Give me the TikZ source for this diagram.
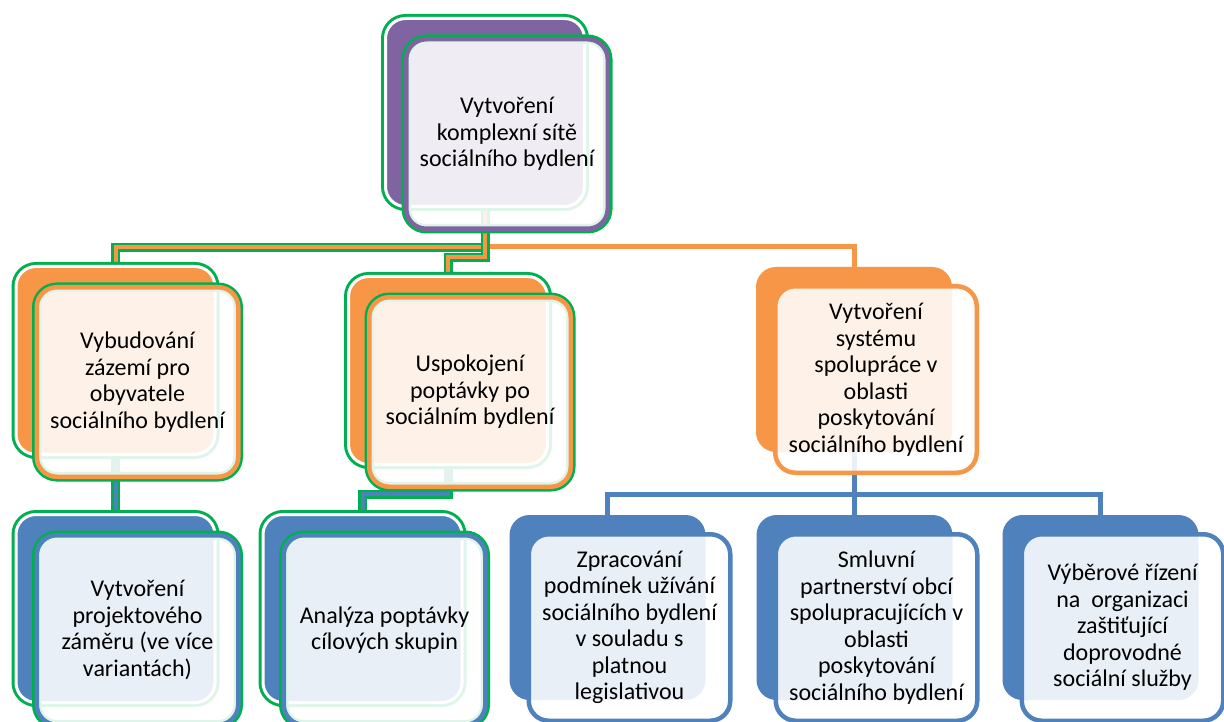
\documentclass[tikz,border=0pt]{standalone}
\usepackage{fontspec}
\setmainfont{Carlito}
\usetikzlibrary{backgrounds}
\definecolor{hlgreen}{HTML}{00B050}
\definecolor{purpleC}{HTML}{8064A2}
\definecolor{orangeC}{HTML}{F79646}
\definecolor{blueC}{HTML}{4F81BD}

\begin{document}
\begin{tikzpicture}[
        x=1pt, y=-1pt,
        back/.style={rectangle, rounded corners=20pt, inner sep=0pt, outer sep=0pt, minimum width=196pt, minimum height=185pt, fill=#1},
        backhl/.style={back=#1, minimum width=199pt, minimum height=188pt, draw=white, line width=3pt, preaction={draw=hlgreen, line width=9pt}},
        front/.style={rectangle, rounded corners=20pt, outer sep=0pt, minimum width=201.5pt, minimum height=186.5pt, draw=#1, line width=4.5pt, fill=white, fill opacity=.88, text opacity=1, align=center, font=\fontsize{24}{26.5}\selectfont, shift={(22,20)}},
        fronthl/.style={front=#1, minimum height=189.5pt, shift={(0,1.5)}, preaction={draw=hlgreen, line width=9.5pt}},
        link/.style={draw=#1, line width=5pt},
        linkhl/.style={draw=#1, line width=4pt, preaction={draw=hlgreen, line width=9pt}}
    ]
    \useasboundingbox (0,0) rectangle (1224,722);

    % Nodes
    \node (top-b) [backhl=purpleC] at (485,112.5) {};
    \node (top) [fronthl=purpleC] at (top-b) {Vytvoření\\komplexní sítě\\sociálního bydlení};

    \node (vyb-b) [backhl=orangeC] at (115.5,360.5) {};
    \node (vyb) [fronthl=orangeC] at (vyb-b) {Vybudování\\zázemí pro\\obyvatele\\sociálního bydlení};

    \node (usp-b) [backhl=orangeC] at (448,370.5) {};
    \node (usp) [fronthl=orangeC] at (usp-b) {Uspokojení\\poptávky po\\sociálním bydlení};

    \node (sys-b) [back=orangeC] at (854,359.5) {};
    \node (sys) [front=orangeC] at (sys-b) {Vytvoření\\systému\\spolupráce v\\oblasti\\poskytování\\sociálního bydlení};

    \node (proj-b) [backhl=blueC] at (115.5,608.5) {};
    \node (proj) [fronthl=blueC] at (proj-b) {Vytvoření\\projektového\\záměru (ve více\\variantách)};

    \node (anal-b) [backhl=blueC] at (362.5,608.5) {};
    \node (anal) [fronthl=blueC] at (anal-b) {Analýza poptávky\\cílových skupin};

    \node (zpr-b) [back=blueC] at (607.5,607.5) {};
    \node (zpr) [front=blueC] at (zpr-b) {Zpracování\\podmínek užívání\\sociálního bydlení\\v souladu s\\platnou\\legislativou};

    \node (sml-b) [back=blueC] at (854.5,607.5) {};
    \node (sml) [front=blueC] at (sml-b) {Smluvní\\partnerství obcí\\spolupracujících v\\oblasti\\poskytování\\sociálního bydlení};

    \node (vyber-b) [back=blueC] at (1100.5,607.5) {};
    \node (vyber) [front=blueC] at (vyber-b) {Výběrové řízení\\na\ \ organizaci\\zaštiťující\\doprovodné\\sociální služby};

    % Arrows
    \begin{scope}[on background layer]
        \fill [white] (0,0) rectangle (1224,722);
        \draw [link=orangeC] (top-b.south) -- ++(0,40) -| (sys-b.north);
        \draw [linkhl=orangeC] (top-b.south) -- ++(0,41) -| (vyb-b.north);
        \draw [linkhl=orangeC] (top-b.south) -- ++(0,51) -| (usp-b.north);
        \draw [linkhl=blueC] (vyb-b.south) -- (proj-b.north);
        \draw [linkhl=blueC] (usp-b.south) -- ++(0,29.5) -| (anal-b.north);
        \foreach \kid in {zpr, sml, vyber}
            \draw [link=blueC] (sys-b.south) -- ++(0,42.5) -| (\kid-b.north);
    \end{scope}
\end{tikzpicture}
\end{document}
